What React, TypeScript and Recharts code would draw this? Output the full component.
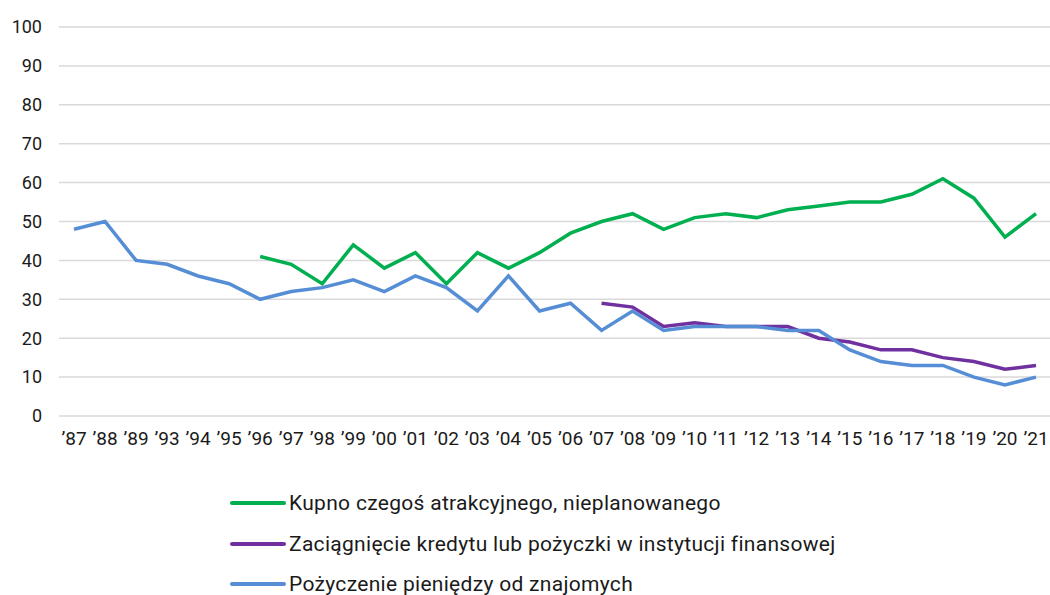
import { LineChart, Line, XAxis, YAxis, CartesianGrid } from 'recharts'

const years = [
  '’87', '’88', '’89', '’93', '’94', '’95', '’96', '’97', '’98', '’99', '’00',
  '’01', '’02', '’03', '’04', '’05', '’06', '’07', '’08', '’09', '’10', '’11',
  '’12', '’13', '’14', '’15', '’16', '’17', '’18', '’19', '’20', '’21',
]

// null = no survey for that year
const kupno = [
  null, null, null, null, null, null, 41, 39, 34, 44, 38,
  42, 34, 42, 38, 42, 47, 50, 52, 48, 51, 52,
  51, 53, 54, 55, 55, 57, 61, 56, 46, 52,
]
const kredyt = [
  null, null, null, null, null, null, null, null, null, null, null,
  null, null, null, null, null, null, 29, 28, 23, 24, 23,
  23, 23, 20, 19, 17, 17, 15, 14, 12, 13,
]
const znajomi = [
  48, 50, 40, 39, 36, 34, 30, 32, 33, 35, 32,
  36, 33, 27, 36, 27, 29, 22, 27, 22, 23, 23,
  23, 22, 22, 17, 14, 13, 13, 10, 8, 10,
]
const yTicks = [0, 10, 20, 30, 40, 50, 60, 70, 80, 90, 100]

const series = [
  { key: 'kupno', name: 'Kupno czegoś atrakcyjnego, nieplanowanego', color: '#00b050' },
  { key: 'kredyt', name: 'Zaciągnięcie kredytu lub pożyczki w instytucji finansowej', color: '#7030a0' },
  { key: 'znajomi', name: 'Pożyczenie pieniędzy od znajomych', color: '#558ed5' },
]

const data = years.map((y, i) => ({
  year: y,
  kupno: kupno[i],
  kredyt: kredyt[i],
  znajomi: znajomi[i],
}))

const font = 'Roboto, "Noto Sans", sans-serif'

export default function App() {
  return (
    <div style={{ position: 'absolute', left: 0, top: 0, width: 1050, height: 595, background: '#fff', fontFamily: font }}>
      <LineChart width={1050} height={470} data={data} margin={{ top: 27, right: 0, bottom: 0, left: 0 }}>
        <CartesianGrid vertical={false} stroke="#d9d9d9" strokeWidth={1.5} />
        <XAxis
          dataKey="year"
          axisLine={false}
          tickLine={false}
          interval={0}
          height={54}
          padding={{ left: 15, right: 14 }}
          tickMargin={10}
          tick={{ fontSize: 19, fill: '#1a1a1a', fontFamily: font }}
        />
        <YAxis
          domain={[0, 100]}
          ticks={yTicks}
          width={59}
          axisLine={false}
          tickLine={false}
          tickMargin={11}
          tick={{ fontSize: 18, fill: '#1a1a1a', fontFamily: font }}
        />
        {series.map(s => (
          <Line
            key={s.key}
            dataKey={s.key}
            name={s.name}
            stroke={s.color}
            strokeWidth={3.5}
            dot={false}
            activeDot={false}
            isAnimationActive={false}
          />
        ))}
      </LineChart>
      <div style={{ position: 'absolute', left: 230, top: 483 }}>
        {series.map(s => (
          <div key={s.key} style={{ display: 'flex', alignItems: 'center', height: 40.5 }}>
            <span style={{ display: 'inline-block', width: 56, height: 4, background: s.color, borderRadius: 2, marginRight: 3 }} />
            <span style={{ fontSize: 21, letterSpacing: 0.3, color: '#1a1a1a', whiteSpace: 'nowrap' }}>{s.name}</span>
          </div>
        ))}
      </div>
    </div>
  )
}
